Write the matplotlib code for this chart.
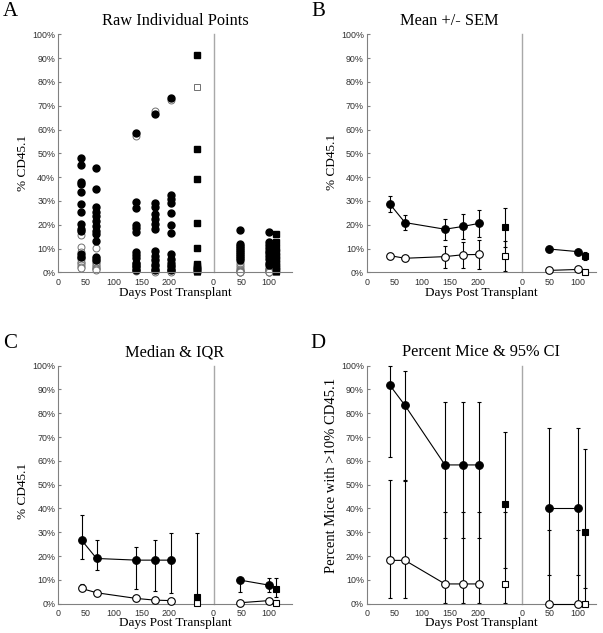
import numpy as np
import matplotlib
matplotlib.use("Agg")
import matplotlib.pyplot as plt

# time points (days); second experiment is drawn shifted right by OFFSET
days1 = [42, 69, 141, 174, 203]
sq_day1 = 250
days2 = [48, 100]
sq_day2 = 113
OFFSET = 280

xticks = [0, 50, 100, 150, 200, 280, 330, 380]
xtick_labels = ['0', '50', '100', '150', '200', '0', '50', '100']
yticks = list(range(0, 101, 10))
ytick_labels = [f'{v}%' for v in yticks]

# ---- raw individual points (% CD45.1) ----
filled_raw1 = [
    [47.9, 45.1, 38.1, 37.0, 33.6, 28.6, 25.2, 20.2, 18.0, 17.2, 7.8, 6.3],
    [43.7, 35.2, 27.6, 25.5, 23.5, 21.5, 19.5, 17.5, 16.0, 13.0, 6.5, 5.2],
    [58.7, 29.7, 27.2, 20.0, 18.5, 17.1, 8.7, 7.3, 5.9, 4.0, 2.5, 1.0],
    [66.5, 29.0, 27.5, 24.5, 22.5, 20.3, 18.0, 9.0, 7.0, 5.0, 3.0, 1.0],
    [73.2, 32.3, 30.8, 29.3, 24.8, 20.0, 16.7, 7.5, 5.5, 4.0, 2.5, 1.0],
]
open_raw1 = [
    [15.7, 10.8, 8.5, 6.6, 6.0, 5.5, 4.5, 3.8, 3.0, 2.4, 1.8],
    [10.4, 6.0, 5.0, 4.5, 3.8, 3.0, 2.5, 2.0, 1.7, 1.2, 0.8],
    [57.2, 4.0, 3.5, 3.0, 2.5, 2.4, 2.2, 1.8, 1.5, 1.0, 0.8, 0.5],
    [67.8, 5.5, 4.0, 3.0, 2.5, 1.7, 1.5, 1.2, 1.0, 0.8, 0.5, 0.3],
    [72.5, 5.0, 3.0, 2.5, 2.0, 1.5, 1.3, 1.0, 0.8, 0.6, 0.4, 0.2],
]
sq_filled_raw1 = [91.3, 51.7, 39.4, 20.7, 10.2, 3.5, 2.8, 2.0, 1.5, 1.0, 0.8, 0.5]
sq_open_raw1 = [77.7, 1.0, 0.8, 0.6, 0.5, 0.4, 0.3, 0.3, 0.2, 0.2, 0.1, 0.1]

filled_raw2 = [
    [17.8, 12.0, 11.0, 10.2, 9.5, 8.7, 7.8, 7.0, 6.0, 5.3],
    [16.8, 12.8, 11.5, 10.3, 9.0, 8.0, 6.8, 5.5, 4.0, 3.0],
]
open_raw2 = [
    [4.0, 3.0, 2.2, 1.5, 1.0, 0.7, 0.5, 0.3, 0.2, 0.1],
    [2.0, 1.5, 1.2, 1.0, 0.8, 0.6, 0.5, 0.3, 0.2, 0.1],
]
sq_filled_raw2 = [16.0, 12.8, 10.3, 8.5, 6.8, 5.5, 4.0, 2.5, 1.5, 0.5]
sq_open_raw2 = [0.5, 0.4, 0.3, 0.3, 0.2, 0.2, 0.1, 0.1, 0.1, 0.0]

# ---- B: mean +/- SEM ----
b_filled1, b_filled1_err = [28.6, 20.9, 18.1, 19.3, 20.6], [3.3, 3.1, 4.5, 5.4, 5.6]
b_open1, b_open1_err = [7.0, 5.9, 6.6, 7.4, 7.5], [1.3, 1.1, 4.6, 5.5, 5.9]
b_filled2, b_filled2_err = [9.8, 8.7], [1.2, 1.3]
b_open2, b_open2_err = [0.8, 1.2], [0.4, 0.5]
b_sq_filled, b_sq_filled_err = [18.9, 7.0], [8.1, 1.7]
b_sq_open, b_sq_open_err = [6.9, 0.3], [6.4, 0.2]

# ---- C: median & IQR ----
c_filled1 = [26.7, 19.0, 18.3, 18.3, 18.3]
c_filled1_lo = [18.6, 14.1, 6.3, 5.5, 4.6]
c_filled1_hi = [37.3, 26.7, 23.7, 26.7, 29.8]
c_open1 = [6.4, 4.6, 2.2, 1.5, 1.3]
c_open1_lo = [5.6, 3.8, 1.3, 0.9, 0.7]
c_open1_hi = [8.4, 5.5, 3.2, 3.0, 2.5]
c_filled2, c_filled2_lo, c_filled2_hi = [9.9, 7.8], [5.0, 5.0], [10.3, 10.6]
c_open2, c_open2_lo, c_open2_hi = [0.4, 1.3], [0.2, 0.8], [1.0, 1.6]
c_sq_filled, c_sq_filled_lo, c_sq_filled_hi = [2.9, 6.3], [0.8, 2.7], [29.8, 10.6]
c_sq_open, c_sq_open_lo, c_sq_open_hi = [0.4, 0.1], [0.2, 0.05], [0.8, 0.3]

# ---- D: percent mice >10% & 95% CI ----
d_filled1 = [91.7, 83.3, 58.3, 58.3, 58.3]
d_filled1_lo = [61.5, 51.6, 27.7, 27.7, 27.7]
d_filled1_hi = [99.8, 97.9, 84.8, 84.8, 84.8]
d_open1 = [18.2, 18.2, 8.3, 8.3, 8.3]
d_open1_lo = [2.3, 2.3, 0.2, 0.2, 0.2]
d_open1_hi = [51.8, 51.8, 38.5, 38.5, 38.5]
d_filled2, d_filled2_lo, d_filled2_hi = [40.0, 40.0], [12.2, 12.2], [73.8, 73.8]
d_open2, d_open2_lo, d_open2_hi = [0.0, 0.0], [0.0, 0.0], [30.8, 30.8]
d_sq_filled, d_sq_filled_lo, d_sq_filled_hi = [41.7, 30.0], [15.2, 6.7], [72.3, 65.2]
d_sq_open, d_sq_open_lo, d_sq_open_hi = [8.3, 0.0], [0.2, 0.0], [38.5, 30.8]

SERIF = ['Liberation Serif', 'DejaVu Serif']
SANS = ['Liberation Sans', 'DejaVu Sans']
SPINE = '#808080'


def setup(ax, letter, title, ylabel, title_x, ylab_pos, ylab_size, xlab_y, xmax,
          letter_pos):
    ax.set_xlim(0, xmax)
    ax.set_ylim(0, 100)
    for s in ['top', 'right']:
        ax.spines[s].set_visible(False)
    for s in ['left', 'bottom']:
        ax.spines[s].set_color(SPINE)
        ax.spines[s].set_linewidth(0.8)
    ax.axvline(OFFSET, color='#a8a8a8', lw=1.0, zorder=0)
    ax.set_xticks(xticks)
    ax.set_xticklabels(xtick_labels, fontfamily=SANS, fontsize=6.4, color='#303030')
    ax.set_yticks(yticks)
    ax.set_yticklabels(ytick_labels, fontfamily=SANS, fontsize=6.4, color='#303030')
    ax.tick_params(axis='x', length=0, pad=4)
    ax.tick_params(axis='y', length=2.5, direction='in', color=SPINE, pad=2)
    ax.text(title_x, 1.057, title, transform=ax.transAxes, ha='center', va='center',
            fontfamily=SERIF, fontsize=11.8)
    ax.text(0.5, xlab_y, 'Days Post Transplant', transform=ax.transAxes,
            ha='center', va='center', fontfamily=SERIF, fontsize=9.5)
    ax.text(ylab_pos[0], ylab_pos[1], ylabel, transform=ax.transAxes, rotation=90,
            ha='center', va='center', fontfamily=SERIF, fontsize=ylab_size)
    ax.text(letter_pos[0], letter_pos[1], letter, transform=ax.transAxes,
            ha='center', va='center', fontfamily=SERIF, fontsize=15)


def summary(ax, x, y, lo, hi, marker, face, ms, line=True):
    x = np.asarray(x, float)
    y = np.asarray(y, float)
    err = [y - np.asarray(lo, float), np.asarray(hi, float) - y]
    ax.errorbar(x, y, yerr=err, fmt='none', ecolor='black', elinewidth=0.8,
                capsize=1.6, capthick=0.8, zorder=2)
    ax.plot(x, y, color='black', lw=0.8, ls='-' if line else 'none', marker=marker,
            ms=ms, mfc=face, mec='black', mew=0.8, zorder=3)


fig = plt.figure(figsize=(6.03, 6.33), dpi=100)
axA = fig.add_axes([0.0962, 0.5698, 0.388, 0.376])
axB = fig.add_axes([0.6081, 0.5698, 0.3803, 0.376])
axC = fig.add_axes([0.0967, 0.0463, 0.387, 0.376])
axD = fig.add_axes([0.6081, 0.0463, 0.3803, 0.376])

setup(axA, 'A', 'Raw Individual Points', '% CD45.1', 0.5, (-0.151, 0.46), 9.5,
      -0.086, 421, (-0.205, 1.094))
setup(axB, 'B', 'Mean +/- SEM', '% CD45.1', 0.36, (-0.153, 0.463), 9.5,
      -0.086, 413, (-0.212, 1.094))
setup(axC, 'C', 'Median & IQR', '% CD45.1', 0.5, (-0.151, 0.474), 9.5,
      -0.081, 421, (-0.205, 1.094))
setup(axD, 'D', 'Percent Mice & 95% CI', 'Percent Mice with >10% CD45.1', 0.5,
      (-0.153, 0.54), 10.5, -0.081, 413, (-0.212, 1.094))

# ---- A: raw points ----
for d, vals in zip(days1, open_raw1):
    axA.plot([d] * len(vals), vals, 'o', ms=5, mfc='white', mec='#707070', mew=0.7, ls='none')
for d, vals in zip(days2, open_raw2):
    axA.plot([d + OFFSET] * len(vals), vals, 'o', ms=5, mfc='white', mec='#707070', mew=0.7, ls='none')
axA.plot([sq_day1] * len(sq_open_raw1), sq_open_raw1, 's', ms=4, mfc='white', mec='#707070', mew=0.7, ls='none')
axA.plot([sq_day2 + OFFSET] * len(sq_open_raw2), sq_open_raw2, 's', ms=4, mfc='white', mec='#707070', mew=0.7, ls='none')
for d, vals in zip(days1, filled_raw1):
    axA.plot([d] * len(vals), vals, 'o', ms=5, color='black', ls='none')
for d, vals in zip(days2, filled_raw2):
    axA.plot([d + OFFSET] * len(vals), vals, 'o', ms=5, color='black', ls='none')
axA.plot([sq_day1] * len(sq_filled_raw1), sq_filled_raw1, 's', ms=4, color='black', ls='none')
axA.plot([sq_day2 + OFFSET] * len(sq_filled_raw2), sq_filled_raw2, 's', ms=4, color='black', ls='none')

x2 = [d + OFFSET for d in days2]
xs = [sq_day1, sq_day2 + OFFSET]


def sym(v, e):
    v = np.asarray(v, float)
    e = np.asarray(e, float)
    return v - e, v + e


# ---- B ----
summary(axB, days1, b_open1, *sym(b_open1, b_open1_err), 'o', 'white', 5.5)
summary(axB, x2, b_open2, *sym(b_open2, b_open2_err), 'o', 'white', 5.5)
summary(axB, xs, b_sq_open, *sym(b_sq_open, b_sq_open_err), 's', 'white', 4, line=False)
summary(axB, days1, b_filled1, *sym(b_filled1, b_filled1_err), 'o', 'black', 5.5)
summary(axB, x2, b_filled2, *sym(b_filled2, b_filled2_err), 'o', 'black', 5.5)
summary(axB, xs, b_sq_filled, *sym(b_sq_filled, b_sq_filled_err), 's', 'black', 4, line=False)

# ---- C ----
summary(axC, days1, c_open1, c_open1_lo, c_open1_hi, 'o', 'white', 5.5)
summary(axC, x2, c_open2, c_open2_lo, c_open2_hi, 'o', 'white', 5.5)
summary(axC, xs, c_sq_open, c_sq_open_lo, c_sq_open_hi, 's', 'white', 4, line=False)
summary(axC, days1, c_filled1, c_filled1_lo, c_filled1_hi, 'o', 'black', 5.5)
summary(axC, x2, c_filled2, c_filled2_lo, c_filled2_hi, 'o', 'black', 5.5)
summary(axC, xs, c_sq_filled, c_sq_filled_lo, c_sq_filled_hi, 's', 'black', 4, line=False)

# ---- D ----
summary(axD, days1, d_open1, d_open1_lo, d_open1_hi, 'o', 'white', 5.5)
summary(axD, x2, d_open2, d_open2_lo, d_open2_hi, 'o', 'white', 5.5)
summary(axD, xs, d_sq_open, d_sq_open_lo, d_sq_open_hi, 's', 'white', 4, line=False)
summary(axD, days1, d_filled1, d_filled1_lo, d_filled1_hi, 'o', 'black', 5.5)
summary(axD, x2, d_filled2, d_filled2_lo, d_filled2_hi, 'o', 'black', 5.5)
summary(axD, xs, d_sq_filled, d_sq_filled_lo, d_sq_filled_hi, 's', 'black', 4, line=False)

for ax in (axA, axB, axC, axD):
    for a in ax.lines + ax.collections:
        a.set_clip_on(False)

fig.savefig('out.png', dpi=100)
